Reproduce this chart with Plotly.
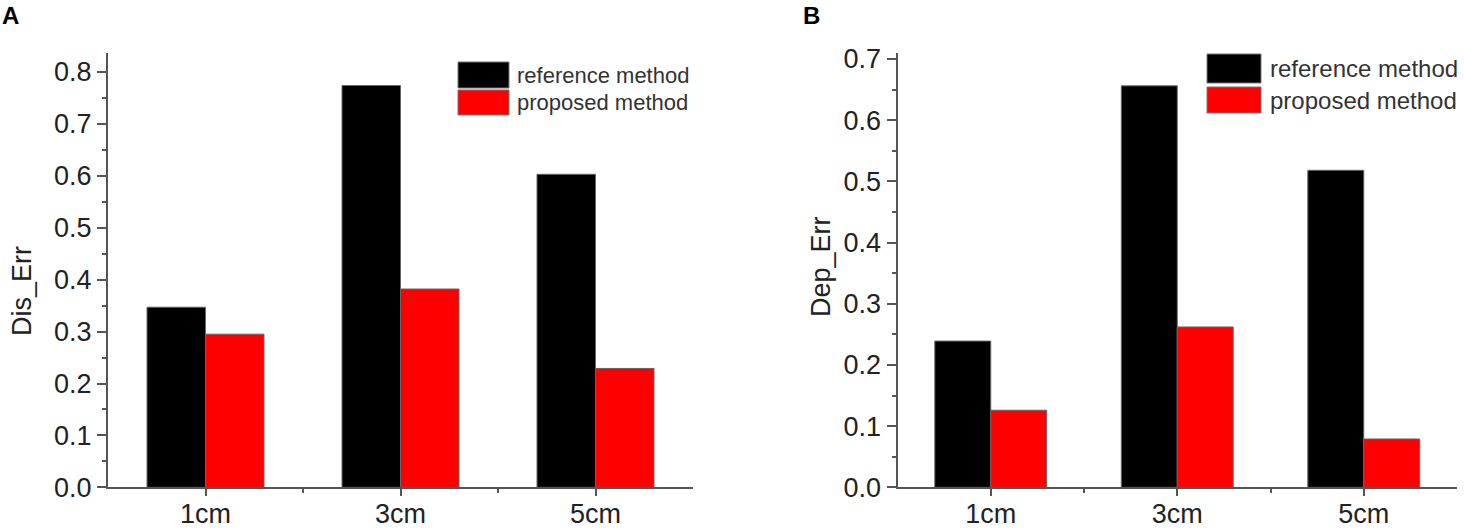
import plotly.graph_objects as go
from plotly.subplots import make_subplots

# values
categories = ["1cm", "3cm", "5cm"]
dis_reference = [0.347, 0.774, 0.603]
dis_proposed = [0.295, 0.382, 0.229]
dep_reference = [0.239, 0.656, 0.518]
dep_proposed = [0.126, 0.262, 0.079]

series_names = ["reference method", "proposed method"]
colors = ["#000000", "#ff0000"]

W, H = 1464, 528
font_family = "Arial, Liberation Sans, sans-serif"
axis_col = "#555555"

xpos = list(range(len(categories)))

fig = make_subplots(rows=1, cols=2)

for i, (vals, col) in enumerate(zip([dis_reference, dis_proposed], colors)):
    fig.add_trace(go.Bar(x=xpos, y=vals, name=series_names[i], marker_color=col,
                         marker_line=dict(color="#666666", width=1), showlegend=False),
                  row=1, col=1)
for i, (vals, col) in enumerate(zip([dep_reference, dep_proposed], colors)):
    fig.add_trace(go.Bar(x=xpos, y=vals, name=series_names[i], marker_color=col,
                         marker_line=dict(color="#666666", width=1), showlegend=False),
                  row=1, col=2)

xcommon = dict(range=[-0.5, 2.5], tickvals=xpos, ticktext=categories, automargin=False,
               showline=True, linecolor=axis_col, linewidth=2, showgrid=False, zeroline=False,
               ticks="outside", ticklen=7, tickwidth=1.5, tickcolor=axis_col,
               ticklabelstandoff=-6,
               tickfont=dict(size=27, color="#222222", family=font_family),
               minor=dict(tickvals=[0.5, 1.5], ticks="outside", ticklen=4, tickwidth=1.5,
                          tickcolor=axis_col, showgrid=False))
ycommon = dict(showline=True, linecolor=axis_col, linewidth=2, showgrid=False, zeroline=False,
               ticks="outside", ticklen=9, tickwidth=1.5, tickcolor=axis_col, dtick=0.1,
               automargin=False, tickformat=".1f",
               tickfont=dict(size=27, color="#222222", family=font_family),
               minor=dict(dtick=0.05, ticks="outside", ticklen=4, tickwidth=1.5,
                          tickcolor=axis_col, showgrid=False))

ydom = [0.077, 0.900]
fig.update_layout(
    xaxis=dict(domain=[108 / W, 693 / W], anchor="y", **xcommon),
    xaxis2=dict(domain=[897.5 / W, 1457 / W], anchor="y2", **xcommon),
    yaxis=dict(domain=ydom, range=[0, 0.837], anchor="x", **ycommon),
    yaxis2=dict(domain=ydom, range=[0, 0.71], anchor="x2", **ycommon),
    barmode="group", bargap=0.4, bargroupgap=0,
    width=W, height=H, margin=dict(l=0, r=0, t=0, b=0, autoexpand=False),
    plot_bgcolor="white", paper_bgcolor="white",
    font=dict(family=font_family, color="#222222"),
)


def px_x(v):
    return v / W


def px_y(v):
    return 1 - v / H


# hand-drawn legends (large swatches like the original)
legends = [
    dict(x0=458, x1=509, rows=[(62, 88), (90, 115)], tx=515, size=22),
    dict(x0=1207, x1=1261, rows=[(54, 83), (87, 113)], tx=1268, size=24),
]
for lg in legends:
    for (y0, y1), col, name in zip(lg["rows"], colors, series_names):
        fig.add_shape(type="rect", xref="paper", yref="paper",
                      x0=px_x(lg["x0"]), x1=px_x(lg["x1"]), y0=px_y(y1), y1=px_y(y0),
                      fillcolor=col, line=dict(color="#777777", width=1))
        fig.add_annotation(xref="paper", yref="paper", x=px_x(lg["tx"]), y=px_y((y0 + y1) / 2),
                           text=name, showarrow=False, xanchor="left", yanchor="middle",
                           font=dict(size=lg["size"], color="#333333", family=font_family))

# axis titles
fig.add_annotation(xref="paper", yref="paper", x=px_x(22), y=px_y(291), text="Dis_Err",
                   textangle=-90, showarrow=False, xanchor="center", yanchor="middle",
                   font=dict(size=27, color="#222222", family=font_family))
fig.add_annotation(xref="paper", yref="paper", x=px_x(821), y=px_y(267), text="Dep_Err",
                   textangle=-90, showarrow=False, xanchor="center", yanchor="middle",
                   font=dict(size=27, color="#222222", family=font_family))

# panel letters
fig.add_annotation(xref="paper", yref="paper", x=px_x(0), y=px_y(0), text="<b>A</b>",
                   showarrow=False, xanchor="left", yanchor="top",
                   font=dict(size=24, color="#000000", family=font_family))
fig.add_annotation(xref="paper", yref="paper", x=px_x(801), y=px_y(0), text="<b>B</b>",
                   showarrow=False, xanchor="left", yanchor="top",
                   font=dict(size=24, color="#000000", family=font_family))

fig.write_html("out.html", config={"displayModeBar": False},
               post_script="document.body.style.margin='0';")
